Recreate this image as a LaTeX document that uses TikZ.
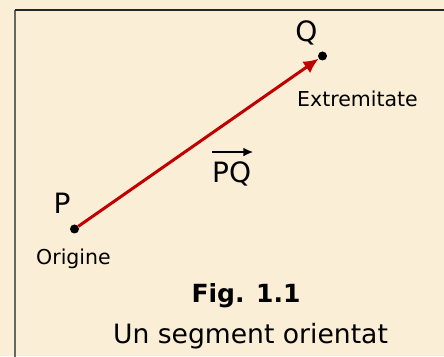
\documentclass[tikz,border=0pt]{standalone}
\usepackage{fontspec}
\setmainfont{DejaVu Sans}
\usepackage{tikz}
\usetikzlibrary{arrows.meta}
\definecolor{hartie}{HTML}{FAEED6}
\definecolor{rosu}{HTML}{C00000}

\tikzset{
  punct/.style={circle, fill=black, inner sep=0pt, minimum size=9pt},
  eticheta/.style={inner sep=0pt, anchor=base},
  vector/.style={draw=rosu, line width=3pt, -{Latex[length=15pt,width=14pt]}}
}

\begin{document}
\begin{tikzpicture}[x=1pt, y=1pt]

   \fill[hartie] (0,0) rectangle (444,356);
   \useasboundingbox (0,0) rectangle (444,356);
   \draw[line width=1.6pt, gray!80!black] (15,-2) -- (15,346);
   \draw[line width=1.3pt, black!85] (15,346) -- (446,346);

   \node[punct] (P) at (74.5,127) {};
   \node[punct] (Q) at (322.5,300) {};
   \draw[vector] (P) -- (Q);

   \node[eticheta] (lP) at (62,142) {\fontsize{28}{32}\selectfont P};
   \node[eticheta] (lQ) at (306.5,314) {\fontsize{28}{32}\selectfont Q};
   \node[eticheta, anchor=base west] (ext) at (297,249) {\fontsize{20.5}{24}\selectfont Extremitate};
   \node[eticheta, anchor=base west] (orig) at (36,91) {\fontsize{20.5}{24}\selectfont Origine};

   \node[eticheta, anchor=base west] (pq) at (212,173) {\fontsize{28}{32}\selectfont PQ};
   \draw[line width=2pt, -{Latex[length=10pt,width=9pt]}] ([yshift=10pt]pq.north west) -- ([xshift=2pt,yshift=10pt]pq.north east);

   \node[eticheta] (fig) at (246,53) {\fontsize{25}{30}\selectfont\bfseries Fig. 1.1};
   \node[eticheta] (titlu) at (250.5,13) {\fontsize{26.6}{30}\selectfont Un segment orientat};
  \end{tikzpicture}
\end{document}
